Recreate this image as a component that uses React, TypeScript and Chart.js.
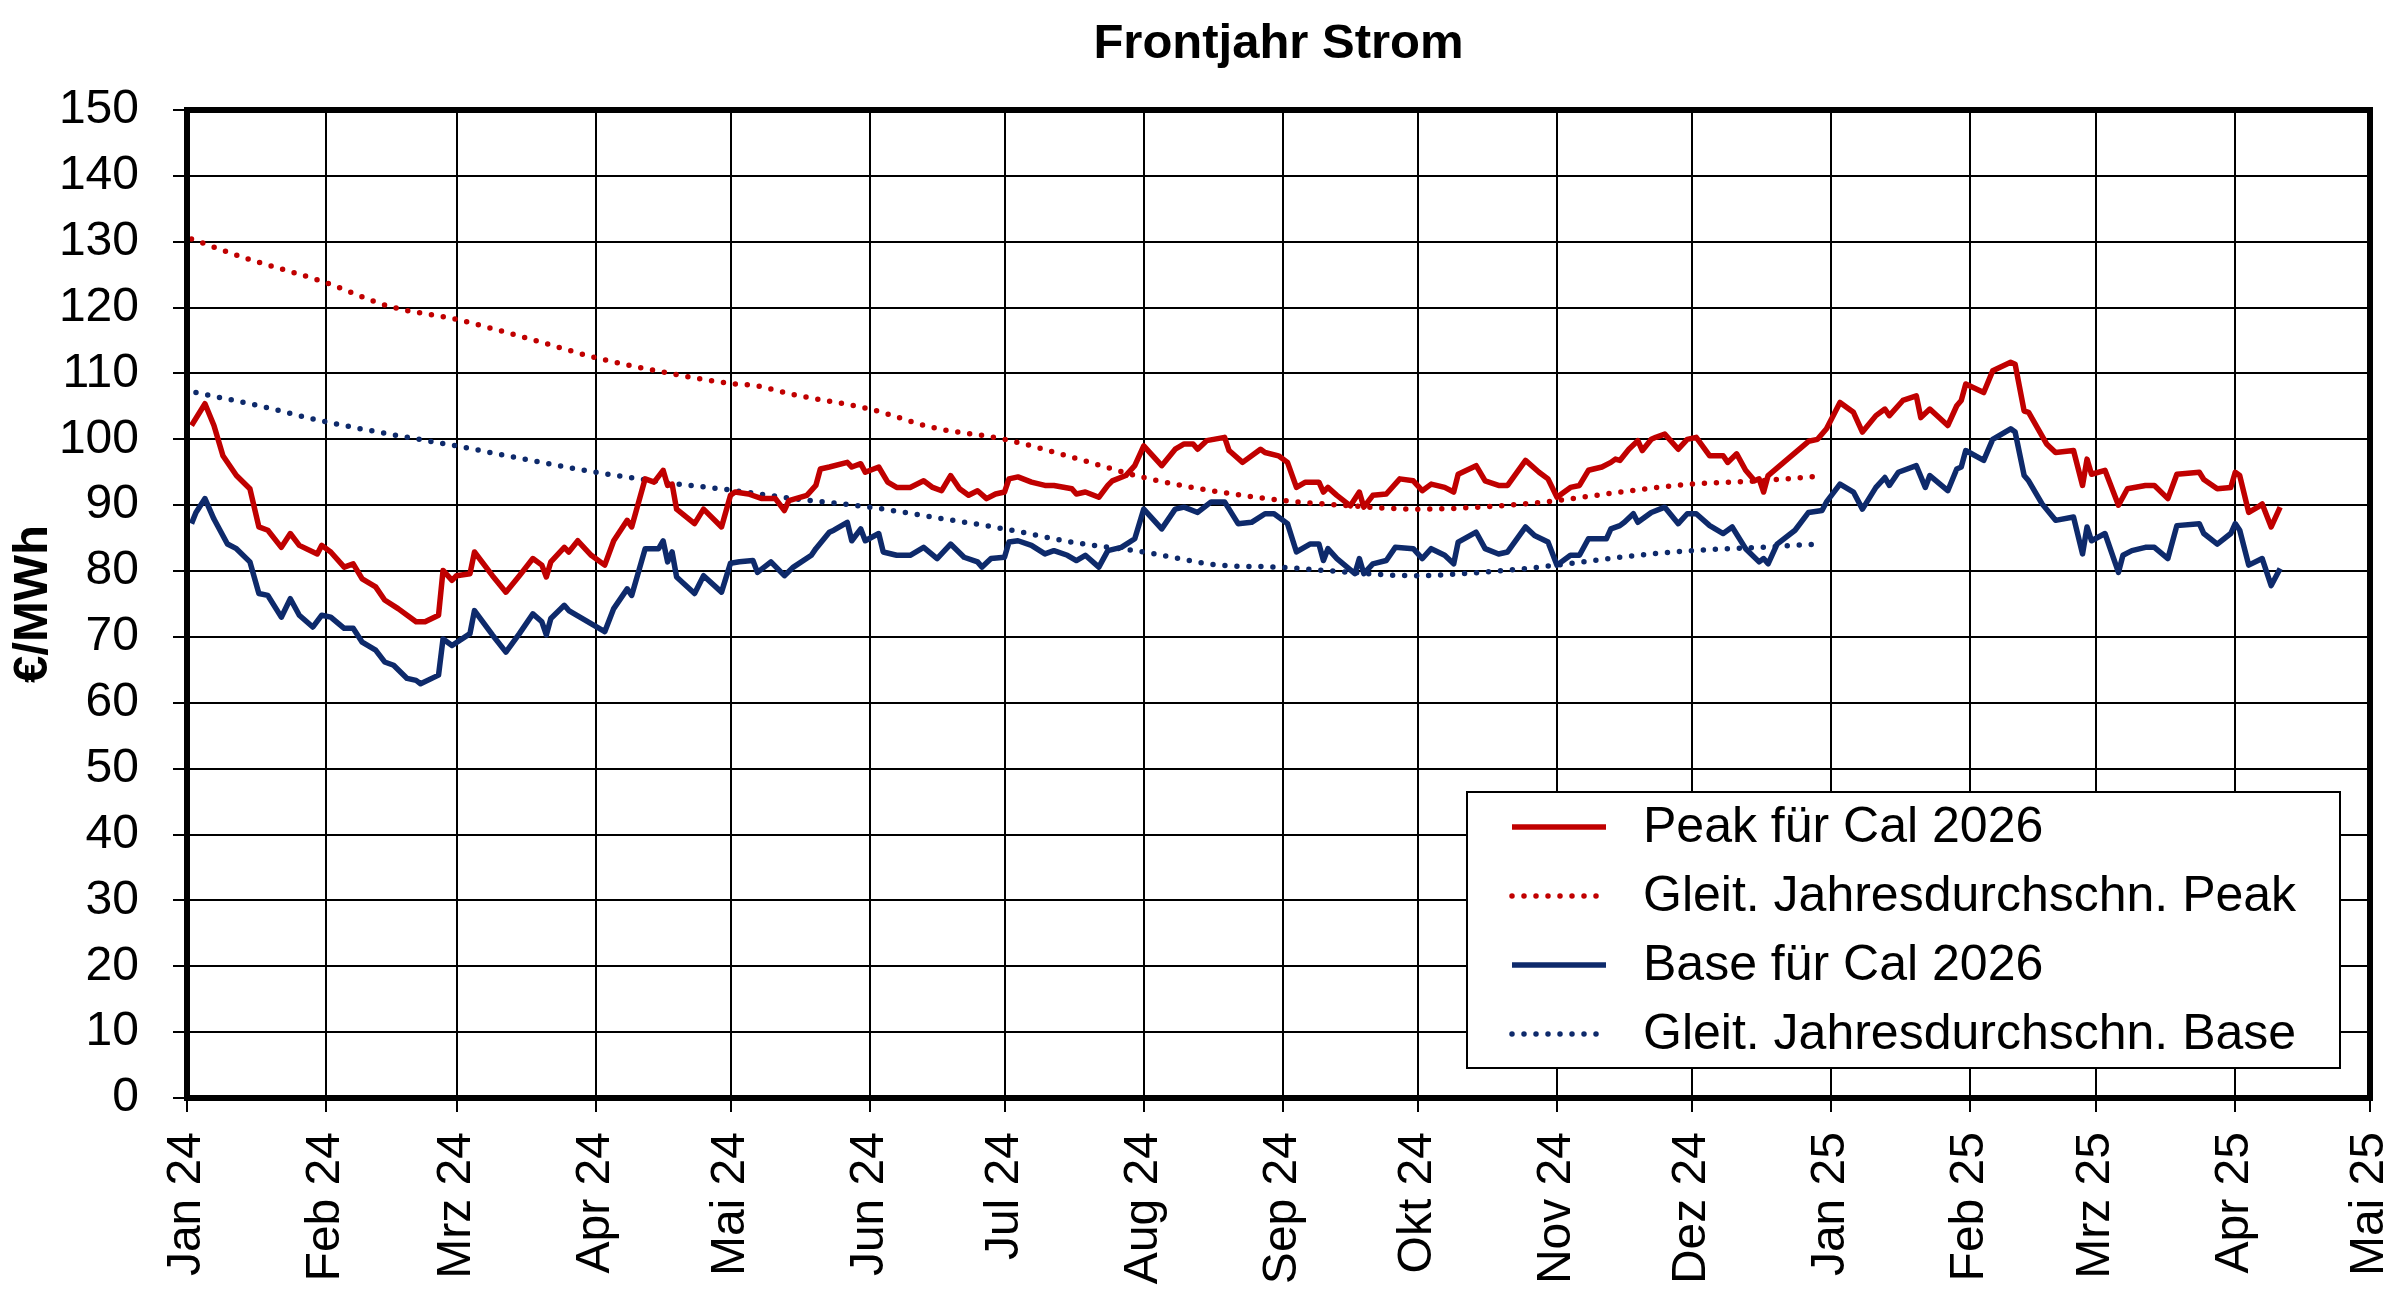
import React, { useEffect, useRef } from "react";
import { Chart, registerables } from "chart.js";

Chart.register(...registerables);

// x values are days since 1 Jan 2024
const monthLabels = [
  "Jan 24", "Feb 24", "Mrz 24", "Apr 24", "Mai 24", "Jun 24", "Jul 24", "Aug 24",
  "Sep 24", "Okt 24", "Nov 24", "Dez 24", "Jan 25", "Feb 25", "Mrz 25", "Apr 25", "Mai 25",
];

const peakDays = [
  1, 4, 6, 8, 11, 14, 16, 18, 21, 23, 25, 29, 30, 32, 35, 37, 39, 42, 44, 47, 51, 53, 56, 57, 59,
  60, 63, 64, 68, 71, 74, 77, 79, 80, 81, 84, 85, 87, 90, 93, 95, 98, 99, 102, 104, 106, 107, 108,
  109, 113, 115, 119, 121, 122, 125, 128, 131, 133, 134, 138, 140, 141, 143, 147, 148, 150, 151,
  154, 156, 158, 161, 164, 166, 168, 170, 172, 174, 176, 178, 180, 182, 183, 185, 188, 191, 193,
  197, 198, 200, 203, 205, 206, 209, 211, 213, 217, 220, 222, 224, 225, 227, 231, 232, 235, 239,
  240, 243, 245, 247, 249, 252, 253, 254, 256, 259, 261, 262, 264, 267, 270, 273, 275, 277, 280,
  282, 283, 287, 289, 292, 294, 298, 301, 303, 305, 308, 310, 312, 315, 317, 318, 319, 321, 323,
  324, 326, 327, 329, 332, 334, 336, 339, 342, 343, 345, 347, 349, 350, 351, 352, 356, 361, 363,
  365, 368, 371, 373, 376, 378, 379, 382, 385, 386, 388, 392, 394, 395, 396, 400, 402, 406, 407,
  409, 410, 414, 416, 420, 422, 423, 424, 427, 430, 432, 436, 438, 441, 443, 448, 449, 452, 455,
  456, 457, 459, 461, 462, 464, 466,
];
const peakValues = [
  102.1, 105.4, 102.1, 97.5, 94.5, 92.5, 86.7, 86.2, 83.6, 85.7, 83.9, 82.6, 83.9, 82.9, 80.6, 81.1,
  78.8, 77.6, 75.6, 74.3, 72.3, 72.3, 73.3, 80.1, 78.6, 79.3, 79.6, 82.9, 79.3, 76.8, 79.3, 81.9,
  80.9, 79.1, 81.4, 83.6, 82.9, 84.6, 82.4, 80.9, 84.6, 87.7, 86.7, 94.0, 93.5, 95.3, 93.0, 93.2,
  89.4, 87.2, 89.4, 86.7, 91.5, 92.0, 91.7, 91.0, 91.0, 89.2, 90.7, 91.5, 93.0, 95.5, 95.8, 96.5,
  95.8, 96.3, 95.0, 95.8, 93.5, 92.7, 92.7, 93.7, 92.7, 92.2, 94.5, 92.5, 91.5, 92.2, 91.0, 91.7,
  92.0, 94.0, 94.3, 93.5, 93.0, 93.0, 92.5, 91.7, 92.0, 91.2, 93.0, 93.7, 94.5, 96.0, 99.0, 96.0,
  98.5, 99.3, 99.3, 98.5, 99.8, 100.3, 98.3, 96.5, 98.5, 98.0, 97.5, 96.5, 92.7, 93.5, 93.5, 92.0,
  92.7, 91.5, 89.9, 92.0, 89.7, 91.5, 91.7, 94.0, 93.7, 92.2, 93.2, 92.7, 92.0, 94.7, 96.0, 93.7,
  93.0, 93.0, 96.8, 95.0, 94.0, 91.2, 92.7, 93.0, 95.3, 95.8, 96.5, 97.0, 96.8, 98.5, 99.8, 98.3,
  100.0, 100.3, 100.8, 98.5, 100.0, 100.3, 97.5, 97.5, 96.5, 97.8, 95.3, 93.7, 94.0, 92.0, 94.5,
  96.8, 99.7, 100.0, 101.6, 105.6, 104.1, 101.1, 103.6, 104.6, 103.6, 105.9, 106.6, 103.3, 104.6,
  102.1, 105.1, 105.9, 108.4, 107.1, 110.4, 111.7, 111.4, 104.3, 104.1, 99.3, 98.0, 98.3, 93.0,
  97.0, 94.7, 95.3, 90.0, 92.5, 93.0, 93.0, 91.0, 94.7, 95.0, 93.9, 92.5, 92.7, 95.0, 94.5, 88.9,
  89.7, 90.2, 86.7, 89.7,
];

const baseDays = [
  1, 2, 4, 6, 9, 11, 14, 16, 18, 21, 23, 25, 28, 30, 32, 35, 37, 39, 42, 44, 46, 49, 51, 52, 56,
  57, 59, 63, 64, 68, 71, 74, 77, 79, 80, 81, 84, 85, 93, 95, 98, 99, 102, 105, 106, 107, 108, 109,
  113, 115, 119, 121, 123, 126, 127, 130, 133, 135, 139, 140, 143, 144, 147, 148, 150, 151, 154,
  155, 158, 161, 164, 167, 170, 173, 176, 177, 179, 182, 183, 185, 188, 191, 193, 196, 198, 200,
  203, 205, 208, 211, 213, 217, 220, 222, 225, 228, 231, 234, 237, 240, 242, 245, 247, 250, 252,
  253, 254, 256, 260, 261, 262, 264, 267, 269, 273, 275, 277, 280, 282, 283, 287, 289, 292, 294,
  298, 300, 303, 305, 308, 310, 312, 316, 317, 319, 320, 322, 323, 326, 329, 332, 334, 336, 339,
  342, 344, 347, 350, 351, 352, 354, 358, 361, 364, 365, 368, 371, 373, 376, 378, 379, 381, 385,
  387, 388, 392, 394, 395, 396, 400, 402, 406, 407, 409, 410, 413, 416, 420, 422, 423, 424, 427,
  430, 431, 433, 436, 438, 441, 443, 448, 449, 452, 455, 456, 457, 459, 462, 464, 466,
];
const baseValues = [
  87.2, 88.9, 91.0, 87.9, 84.1, 83.4, 81.4, 76.6, 76.3, 73.0, 75.8, 73.3, 71.5, 73.3, 73.0, 71.3,
  71.3, 69.2, 68.0, 66.2, 65.7, 63.7, 63.4, 62.9, 64.2, 69.7, 68.7, 70.5, 74.0, 70.3, 67.7, 70.5,
  73.5, 72.3, 70.3, 72.8, 74.8, 74.0, 70.8, 74.3, 77.3, 76.3, 83.4, 83.4, 84.6, 81.4, 82.9, 79.1,
  76.6, 79.3, 76.8, 81.2, 81.4, 81.6, 79.8, 81.4, 79.3, 80.6, 82.4, 83.4, 85.9, 86.2, 87.4, 84.6,
  86.4, 84.6, 85.7, 82.9, 82.4, 82.4, 83.6, 81.9, 84.1, 82.1, 81.4, 80.6, 81.9, 82.1, 84.4, 84.6,
  83.9, 82.6, 83.1, 82.4, 81.6, 82.4, 80.6, 83.1, 83.6, 84.9, 89.4, 86.4, 89.4, 89.7, 88.9, 90.5,
  90.5, 87.2, 87.4, 88.7, 88.7, 87.2, 82.9, 84.1, 84.1, 81.6, 83.4, 81.9, 79.6, 81.9, 79.6, 81.1,
  81.6, 83.6, 83.4, 81.9, 83.4, 82.4, 81.1, 84.4, 85.9, 83.4, 82.6, 82.9, 86.7, 85.4, 84.4, 80.9,
  82.4, 82.4, 84.9, 84.9, 86.4, 86.9, 87.4, 88.7, 87.4, 88.9, 89.7, 87.2, 88.7, 88.7, 86.9, 85.7,
  86.7, 83.4, 81.4, 81.9, 81.1, 84.1, 86.2, 88.9, 89.2, 90.5, 93.2, 92.0, 89.4, 92.7, 94.2, 93.0,
  95.0, 96.0, 92.7, 94.5, 92.2, 95.5, 95.8, 98.3, 96.8, 100.0, 101.6, 101.1, 94.5, 93.7, 90.2,
  87.7, 88.2, 82.6, 86.7, 84.6, 85.7, 79.8, 82.4, 83.1, 83.6, 83.6, 81.9, 86.9, 87.2, 85.7, 84.1,
  85.7, 87.2, 86.2, 80.9, 81.9, 77.8, 80.4,
];

const peakAvgDays = [1, 14, 30, 45, 60, 75, 91, 106, 121, 127, 135, 152, 166, 182, 197, 213, 230, 243, 259, 274, 290, 305, 319, 335, 350, 363];
const peakAvgValues = [130.4, 127.3, 124.0, 120.2, 118.2, 115.5, 112.4, 110.2, 108.5, 108.1, 106.8, 104.6, 101.8, 100.0, 97.3, 94.2, 92.0, 90.8, 89.9, 89.4, 89.8, 90.7, 92.0, 93.2, 93.7, 94.4];

const baseAvgDays = [2, 16, 30, 45, 60, 75, 91, 106, 121, 135, 152, 166, 182, 197, 213, 230, 243, 259, 273, 290, 305, 319, 335, 350, 363];
const baseAvgValues = [107.1, 105.1, 102.8, 100.8, 99.0, 97.0, 95.0, 93.5, 92.3, 91.0, 89.7, 88.2, 86.4, 84.4, 82.9, 80.9, 80.6, 79.8, 79.3, 79.9, 80.9, 82.1, 83.1, 83.6, 84.1];

const seriesLabels = [
  "Peak für Cal 2026",
  "Gleit. Jahresdurchschn. Peak",
  "Base für Cal 2026",
  "Gleit. Jahresdurchschn. Base",
];

const RED = "#C00000";
const BLUE = "#0E2A6B";
const FONT = "'Liberation Sans', Arial, Helvetica, sans-serif";
const DAY_MS = 86400000;
const tickDays = monthLabels.map((_, i) => Math.round((Date.UTC(2024, i, 1) - Date.UTC(2024, 0, 1)) / DAY_MS));

const pts = (xs: number[], ys: number[]) => xs.map((x, i) => ({ x, y: ys[i] }));

const framePlugin = {
  id: "frame",
  afterDatasetsDraw(chart: any) {
    const { ctx, chartArea: a } = chart;
    ctx.save();
    ctx.strokeStyle = "#000";
    ctx.lineWidth = 6;
    ctx.strokeRect(a.left, a.top, a.right - a.left, a.bottom - a.top);
    ctx.restore();
  },
};

const boxLegendPlugin = {
  id: "boxLegend",
  afterDraw(chart: any) {
    const { ctx, chartArea: a } = chart;
    const w = 873;
    const h = 276;
    const x0 = a.right - 30 - w;
    const y0 = a.bottom - 30 - h;
    ctx.save();
    ctx.fillStyle = "#fff";
    ctx.fillRect(x0, y0, w, h);
    ctx.strokeStyle = "#000";
    ctx.lineWidth = 2;
    ctx.strokeRect(x0, y0, w, h);
    chart.data.datasets.forEach((ds: any, i: number) => {
      const cy = y0 + 35 + i * 69;
      ctx.beginPath();
      ctx.setLineDash(ds.borderDash || []);
      ctx.lineCap = ds.borderCapStyle || "butt";
      ctx.lineWidth = ds.borderWidth;
      ctx.strokeStyle = ds.borderColor;
      ctx.moveTo(x0 + 45, cy);
      ctx.lineTo(x0 + 139, cy);
      ctx.stroke();
      ctx.setLineDash([]);
      ctx.fillStyle = "#000";
      ctx.font = `50px ${FONT}`;
      ctx.textAlign = "left";
      ctx.textBaseline = "middle";
      ctx.fillText(ds.label, x0 + 176, cy + 1);
    });
    ctx.restore();
  },
};

export default function App() {
  const canvasRef = useRef<HTMLCanvasElement | null>(null);

  useEffect(() => {
    if (!canvasRef.current) return;
    const solid = (color: string) => ({
      borderColor: color,
      backgroundColor: color,
      borderWidth: 5.5,
      pointRadius: 0,
      tension: 0,
      borderJoinStyle: "round" as const,
      fill: false,
    });
    const dotted = (color: string) => ({
      borderColor: color,
      backgroundColor: color,
      borderWidth: 5.5,
      borderDash: [0, 12],
      borderCapStyle: "round" as const,
      pointRadius: 0,
      cubicInterpolationMode: "monotone" as const,
      fill: false,
    });
    const grid = { color: "#000", lineWidth: 2, tickLength: 14, drawTicks: true };
    const border = { display: true, color: "#000", width: 6 };

    const chart = new Chart(canvasRef.current, {
      type: "line",
      data: {
        datasets: [
          { label: seriesLabels[0], data: pts(peakDays, peakValues), ...solid(RED) },
          { label: seriesLabels[1], data: pts(peakAvgDays, peakAvgValues), ...dotted(RED) },
          { label: seriesLabels[2], data: pts(baseDays, baseValues), ...solid(BLUE) },
          { label: seriesLabels[3], data: pts(baseAvgDays, baseAvgValues), ...dotted(BLUE) },
        ],
      },
      options: {
        responsive: true,
        maintainAspectRatio: false,
        animation: false,
        events: [],
        layout: { padding: { left: 0, right: 30, top: 0, bottom: 0 } },
        plugins: {
          legend: { display: false },
          tooltip: { enabled: false },
          title: {
            display: true,
            text: "Frontjahr Strom",
            fullSize: false,
            color: "#000",
            font: { family: FONT, size: 49, weight: "bold", lineHeight: 1.2 },
            padding: { top: 15, bottom: 36.2 },
          },
        },
        scales: {
          x: {
            type: "linear",
            min: 0,
            max: tickDays[tickDays.length - 1],
            afterBuildTicks: (s: any) => {
              s.ticks = tickDays.map((v) => ({ value: v }));
            },
            afterFit: (s: any) => {
              s.height = 199;
              s.paddingLeft = 0;
              s.paddingRight = 0;
            },
            ticks: {
              autoSkip: false,
              minRotation: 90,
              maxRotation: 90,
              padding: 20,
              color: "#000",
              font: { family: FONT, size: 48 },
              callback: (_v: any, i: number) => monthLabels[i],
            },
            grid,
            border,
          },
          y: {
            min: 0,
            max: 150,
            afterFit: (s: any) => {
              s.width = 187;
            },
            ticks: {
              stepSize: 10,
              padding: 34,
              color: "#000",
              font: { family: FONT, size: 48 },
            },
            grid,
            border,
            title: {
              display: true,
              text: "€/MWh",
              color: "#000",
              font: { family: FONT, size: 49, weight: "bold", lineHeight: 1.2 },
              padding: { top: 4, bottom: 0 },
            },
          },
        },
      },
      plugins: [framePlugin, boxLegendPlugin],
    } as any);

    return () => chart.destroy();
  }, []);

  return (
    <div style={{ position: "absolute", left: 0, top: 0, width: 2400, height: 1297, background: "#fff" }}>
      <canvas ref={canvasRef} style={{ display: "block" }} />
    </div>
  );
}
